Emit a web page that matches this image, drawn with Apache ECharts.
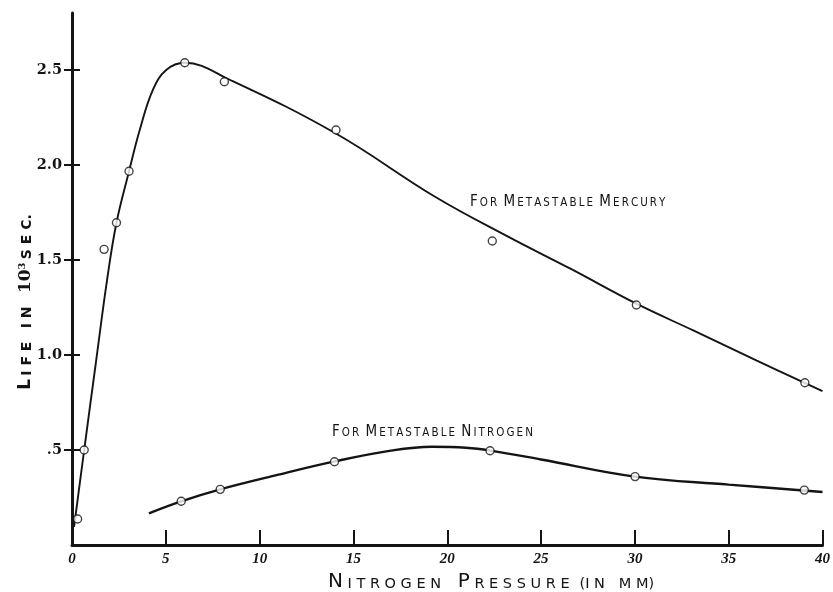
<!DOCTYPE html>
<html>
<head>
<meta charset="utf-8">
<script src="https://cdn.jsdelivr.net/npm/echarts@6/dist/echarts.min.js"></script>
<style>
  html, body { margin: 0; padding: 0; background: #fff; }
  #chart { width: 833px; height: 592px; }
</style>
</head>
<body>
<div id="chart"></div>
<script>
// Axis ticks
const xTicks = [0, 5, 10, 15, 20, 25, 30, 35, 40];
const yTicks = [0.5, 1.0, 1.5, 2.0, 2.5];
const yTickLabels = ['.5', '1.0', '1.5', '2.0', '2.5'];

// Measured lives (10^-3 sec) of metastable mercury vs nitrogen pressure (mm)
const mercuryPressure = [0.30, 0.65, 1.71, 2.37, 3.04, 6.01, 8.12, 14.07, 22.40, 30.08, 39.06];
const mercuryLife     = [0.137, 0.50, 1.556, 1.696, 1.967, 2.538, 2.438, 2.184, 1.60, 1.263, 0.854];

// Measured lives of metastable nitrogen
const nitrogenPressure = [5.82, 7.90, 13.99, 22.28, 30.01, 39.03];
const nitrogenLife     = [0.23, 0.293, 0.438, 0.496, 0.36, 0.289];

// Hand-drawn smooth curves through the mercury data
const mercuryCurvePressure = [0.11, 0.65, 1.26, 1.87, 2.37, 3.04, 3.61, 4.31, 5.02, 6.01, 8.38, 14.04, 19.35, 23.24, 26.59, 30.08, 33.14, 36.5, 40];
const mercuryCurveLife     = [0.096, 0.50, 0.95, 1.395, 1.696, 1.967, 2.184, 2.395, 2.50, 2.538, 2.45, 2.167, 1.833, 1.623, 1.453, 1.27, 1.128, 0.97, 0.81];

// ...and through the nitrogen data
const nitrogenCurvePressure = [4.10, 5.82, 7.90, 11, 14, 17, 19.2, 21, 22.3, 25, 30, 35, 40];
const nitrogenCurveLife     = [0.167, 0.23, 0.293, 0.37, 0.44, 0.497, 0.517, 0.512, 0.497, 0.45, 0.36, 0.318, 0.279];

const zip = (xs, ys) => xs.map((x, i) => [x, ys[i]]);
const INK = '#141414';

// Small-caps lettering: big first letter, spaced small capitals after it
const spacedWith = (s, gap) => s.split('').join(gap);
const capsWord = (w, gap) => `{b|${w[0]}}{s|${gap}${spacedWith(w.slice(1), gap)}}`;

const chart = echarts.init(document.getElementById('chart'), null, { renderer: 'canvas' });

const pointStyle = { color: '#fff', borderColor: INK, borderWidth: 1.4 };
const NOTE_FONT = '"DejaVu Sans Condensed", "DejaVu Sans"';
const noteRich = {
  b: { fontFamily: NOTE_FONT, fontSize: 15, fill: INK, verticalAlign: 'bottom' },
  s: { fontFamily: NOTE_FONT, fontSize: 11.5, fill: INK, verticalAlign: 'bottom' },
  w: { fontFamily: NOTE_FONT, fontSize: 11, fill: INK, verticalAlign: 'bottom' }
};
const THIN = '\u2009';
const note = words => words.map(w => capsWord(w, THIN)).join('{w|\u00a0\u00a0}');

chart.setOption({
  animation: false,
  backgroundColor: '#fff',
  grid: { left: 72, right: 7, top: 13, bottom: 47 },
  xAxis: {
    type: 'value',
    min: 0, max: 40, interval: 5,
    splitLine: { show: false },
    axisLine: { lineStyle: { color: INK, width: 3 } },
    axisTick: { inside: true, length: 15, lineStyle: { color: INK, width: 2 } },
    axisLabel: {
      color: INK, fontFamily: 'Liberation Serif', fontStyle: 'italic', fontWeight: 'bold',
      fontSize: 15, margin: 7,
      customValues: xTicks
    }
  },
  yAxis: [
    {
      type: 'value', position: 'left',
      min: 0, max: 2.8,
      splitLine: { show: false },
      axisLine: { lineStyle: { color: INK, width: 3 } },
      axisTick: { length: 8, lineStyle: { color: INK, width: 2 }, customValues: yTicks },
      axisLabel: {
        color: INK, fontFamily: 'DejaVu Serif', fontWeight: 'bold', fontSize: 14.5, margin: 10,
        customValues: yTicks,
        formatter: v => yTickLabels[yTicks.findIndex(t => Math.abs(t - v) < 1e-6)] || ''
      }
    },
    {
      // inner half of the crossing y ticks
      type: 'value', position: 'left',
      min: 0, max: 2.8,
      splitLine: { show: false },
      axisLine: { show: false },
      axisTick: { inside: true, length: 8, lineStyle: { color: INK, width: 2 }, customValues: yTicks },
      axisLabel: { show: false }
    }
  ],
  series: [
    {
      type: 'line', name: 'mercury curve',
      data: zip(mercuryCurvePressure, mercuryCurveLife),
      showSymbol: false, smooth: 0.4,
      lineStyle: { color: INK, width: 1.9 }, z: 2
    },
    {
      type: 'line', name: 'nitrogen curve',
      data: zip(nitrogenCurvePressure, nitrogenCurveLife),
      showSymbol: false, smooth: 0.4,
      lineStyle: { color: INK, width: 2.4 }, z: 2
    },
    {
      type: 'scatter', name: 'mercury',
      data: zip(mercuryPressure, mercuryLife),
      symbol: 'circle', symbolSize: 8, itemStyle: pointStyle, z: 5
    },
    {
      type: 'scatter', name: 'nitrogen',
      data: zip(nitrogenPressure, nitrogenLife),
      symbol: 'circle', symbolSize: 8, itemStyle: pointStyle, z: 5
    }
  ],
  graphic: [
    {
      type: 'text', x: 470, y: 202,
      style: {
        text: note(['FOR', 'METASTABLE', 'MERCURY']),
        verticalAlign: 'middle', align: 'left',
        rich: noteRich
      }
    },
    {
      type: 'text', x: 332, y: 432,
      style: {
        text: note(['FOR', 'METASTABLE', 'NITROGEN']),
        verticalAlign: 'middle', align: 'left',
        rich: noteRich
      }
    },
    {
      // x axis title
      type: 'text', x: 491, y: 582,
      style: {
        text: capsWord('NITROGEN', ' ') + '     ' + capsWord('PRESSURE', ' ') + '   ' + `{s|(I N   M M)}`,
        align: 'center', verticalAlign: 'middle',
        rich: {
          b: { fontFamily: 'DejaVu Sans', fontSize: 20, fill: INK, verticalAlign: 'bottom' },
          s: { fontFamily: 'DejaVu Sans', fontSize: 14.5, fill: INK, verticalAlign: 'bottom' }
        }
      }
    },
    {
      // y axis title, reading bottom to top
      type: 'text', x: 26, y: 302, rotation: Math.PI / 2,
      style: {
        text: '{b|L} {s|I F E}    {s|I N}    {n|10}{u|3} {s|S E C.}',
        align: 'center', verticalAlign: 'middle',
        rich: {
          b: { fontFamily: 'DejaVu Sans', fontWeight: 'bold', fontSize: 17, fill: INK, verticalAlign: 'bottom' },
          s: { fontFamily: 'DejaVu Sans', fontWeight: 'bold', fontSize: 14, fill: INK, verticalAlign: 'bottom' },
          n: { fontFamily: 'DejaVu Serif', fontWeight: 'bold', fontSize: 17, fill: INK, verticalAlign: 'bottom' },
          u: { fontFamily: 'DejaVu Serif', fontWeight: 'bold', fontSize: 10, fill: INK, verticalAlign: 'top' }
        }
      }
    }
  ]
});
</script>
</body>
</html>
